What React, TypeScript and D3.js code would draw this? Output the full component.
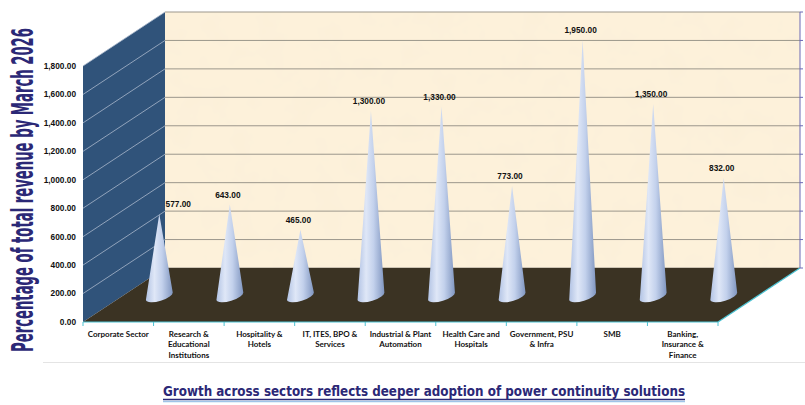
import * as d3 from "d3";
import React from "react";

// sector categories (front axis) and values (cones)
const categories: string[][] = [
  ["Corporate Sector"],
  ["Research &", "Educational", "Institutions"],
  ["Hospitality &", "Hotels"],
  ["IT, ITES, BPO &", "Services"],
  ["Industrial & Plant", "Automation"],
  ["Health Care and", "Hospitals"],
  ["Government, PSU", "& Infra"],
  ["SMB"],
  ["Banking,", "Insurance &", "Finance"],
];
const values = [577, 643, 465, 1300, 1330, 773, 1950, 1350, 832];
const yTicks = [0, 200, 400, 600, 800, 1000, 1200, 1400, 1600, 1800];

const yTitle = "Percentage of total revenue by March 2026";
const caption = "Growth across sectors reflects deeper adoption of power continuity solutions";

const W = 805;
const H = 405;

const App: React.FC = () => {
  // oblique 3d frame
  const left = 83;
  const right = 718;
  const floorY = 322;
  const depthX = 82;
  const depthY = -54;
  const plotH = 256;

  const keys = categories.map((c) => c.join(" "));
  const x = d3.scaleBand().domain(keys).range([left, right]).paddingInner(0).paddingOuter(0);
  const h = d3.scaleLinear().domain([0, 1800]).range([0, plotH]).clamp(true);
  const fmt = d3.format(",.2f");

  const backX0 = left + depthX;
  const backX1 = right + depthX;
  const backY0 = floorY + depthY;
  const backTop = backY0 - plotH;

  // cone base sits at mid depth
  const coneBaseY = floorY + depthY / 2 + 1;
  const rx = 14;
  const ry = 5;
  const rot = -17;
  const th = (rot * Math.PI) / 180;

  const conePath = (cx: number, cy: number, apexY: number) => {
    const lx = cx - rx * Math.cos(th);
    const ly = cy - rx * Math.sin(th);
    const rxp = cx + rx * Math.cos(th);
    const ryp = cy + rx * Math.sin(th);
    return `M${cx},${apexY} L${lx},${ly} A${rx},${ry} ${rot} 0 0 ${rxp},${ryp} Z`;
  };

  const navy = "#2b2876";

  return (
    <svg
      width={W}
      height={H}
      style={{ position: "absolute", left: 0, top: 0, background: "#fff" }}
    >
      <defs>
        <linearGradient id="cone" x1="0" x2="1" y1="0" y2="0">
          <stop offset="0" stopColor="#b2c3e4" />
          <stop offset="0.32" stopColor="#dfe7f7" />
          <stop offset="0.6" stopColor="#c3d1ec" />
          <stop offset="1" stopColor="#8096c0" />
        </linearGradient>
        <filter id="paper" x="0" y="0" width="100%" height="100%">
          <feTurbulence type="fractalNoise" baseFrequency="0.035" numOctaves={3} seed={4} />
          <feColorMatrix
            type="matrix"
            values="0 0 0 0 0.93  0 0 0 0 0.84  0 0 0 0 0.68  0.7 0 0 0 -0.3"
          />
        </filter>
      </defs>

      {/* back wall */}
      <rect x={backX0} y={backTop} width={backX1 - backX0} height={plotH} fill="#fdf1da" />
      <rect
        x={backX0}
        y={backTop}
        width={backX1 - backX0}
        height={plotH}
        fill="#fff"
        filter="url(#paper)"
      />

      {/* left wall */}
      <path
        d={`M${left},${floorY} L${left},${floorY - plotH} L${backX0},${backTop} L${backX0},${backY0} Z`}
        fill="#30537a"
      />

      {/* gridlines */}
      {yTicks.map((t) => (
        <g key={t}>
          {t > 0 && (
            <line
              x1={left}
              y1={floorY - h(t)}
              x2={backX0}
              y2={backY0 - h(t)}
              stroke="#a9b7cb"
              strokeWidth={0.8}
            />
          )}
          <line
            x1={backX0}
            y1={backY0 - h(t)}
            x2={backX1}
            y2={backY0 - h(t)}
            stroke="#9c978c"
            strokeWidth={1}
          />
          <line
            x1={backX1}
            y1={backY0 - h(t)}
            x2={backX1 + 3}
            y2={backY0 - h(t)}
            stroke="#6b68b5"
            strokeWidth={1}
          />
        </g>
      ))}
      <line x1={backX1} y1={backTop} x2={backX1} y2={backY0} stroke="#6b68b5" strokeWidth={1} />

      {/* floor */}
      <path
        d={`M${left},${floorY} L${right},${floorY} L${backX1},${backY0} L${backX0},${backY0} Z`}
        fill="#3b3323"
      />
      <line x1={right} y1={floorY} x2={backX1} y2={backY0} stroke="#4cc3d3" strokeWidth={1.2} />
      <line x1={left} y1={floorY} x2={right} y2={floorY} stroke="#4cc3d3" strokeWidth={1.2} />
      {keys.map((k) => (
        <line key={k} x1={x(k)!} y1={floorY} x2={x(k)!} y2={floorY + 4} stroke="#4cc3d3" strokeWidth={1} />
      ))}
      <line x1={right} y1={floorY} x2={right} y2={floorY + 4} stroke="#4cc3d3" strokeWidth={1} />

      {/* y tick labels */}
      {yTicks.map((t) => (
        <text
          key={t}
          x={76}
          y={floorY - h(t)}
          dy="0.35em"
          textAnchor="end"
          fontFamily="Liberation Sans, Arial, sans-serif"
          fontWeight="bold"
          fontSize={8.3}
          fill="#111"
        >
          {fmt(t)}
        </text>
      ))}

      {/* cones */}
      {values.map((v, i) => {
        const cx = x(keys[i])! + x.bandwidth() / 2 + depthX / 2;
        const apexY = coneBaseY - h(v);
        return (
          <g key={keys[i]}>
            <path d={conePath(cx, coneBaseY, apexY)} fill="url(#cone)" />
            <text
              x={i === 0 ? cx + 19 : cx - 2}
              y={apexY - 7}
              textAnchor="middle"
              fontFamily="Liberation Sans, Arial, sans-serif"
              fontWeight="bold"
              fontSize={8.3}
              fill="#111"
            >
              {fmt(v)}
            </text>
          </g>
        );
      })}

      {/* category labels */}
      {categories.map((lines, i) => (
        <text
          key={keys[i]}
          x={x(keys[i])! + x.bandwidth() / 2}
          y={336.5}
          textAnchor="middle"
          fontFamily="Lato, sans-serif"
          fontWeight="bold"
          fontSize={8}
          fill="#111"
        >
          {lines.map((l, j) => (
            <tspan key={j} x={x(keys[i])! + x.bandwidth() / 2} dy={j === 0 ? 0 : 10.5}>
              {l}
            </tspan>
          ))}
        </text>
      ))}

      {/* plot frame bottom */}
      <line x1={43} y1={362.5} x2={W} y2={362.5} stroke="#e4e4e4" strokeWidth={1} />

      {/* y axis title: condensed tall lettering */}
      <text
        transform={`translate(33,190) rotate(-90) scale(1,2.05)`}
        textAnchor="middle"
        fontFamily="DejaVu Sans Condensed, DejaVu Sans, sans-serif"
        fontWeight="bold"
        fontSize={15}
        fill={navy}
        textLength={324}
        lengthAdjust="spacingAndGlyphs"
      >
        {yTitle}
      </text>

      {/* caption */}
      <text
        x={424}
        y={396}
        textAnchor="middle"
        fontFamily="DejaVu Sans Condensed, DejaVu Sans, sans-serif"
        fontWeight="bold"
        fontSize={14}
        fill={navy}
        textLength={522}
        lengthAdjust="spacingAndGlyphs"
      >
        {caption}
      </text>
      <line x1={163} y1={399.5} x2={685} y2={399.5} stroke={navy} strokeWidth={1.4} />
      <line x1={163} y1={401.5} x2={685} y2={401.5} stroke="#9fc4e8" strokeWidth={1.6} />
    </svg>
  );
};

export default App;
